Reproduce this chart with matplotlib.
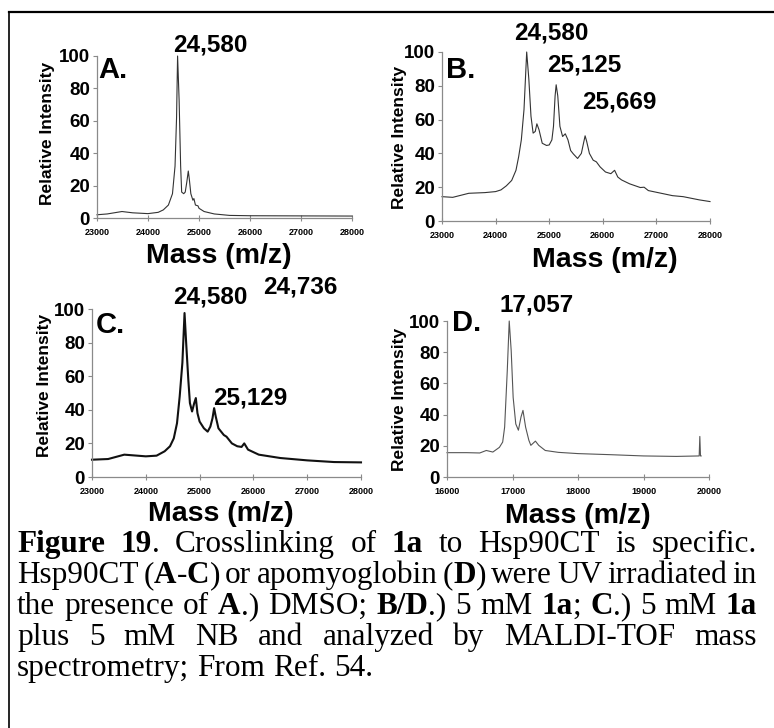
import matplotlib
matplotlib.use("Agg")
import matplotlib.pyplot as plt
from matplotlib.lines import Line2D

W, H = 774, 728

# ---------------- data ----------------
a_mass = [23000, 23200, 23490, 23700, 24000, 24200, 24300, 24400, 24480, 24530, 24560, 24580,
          24610, 24640, 24660, 24700, 24730, 24760, 24790, 24810, 24840, 24880, 24900, 24930,
          24980, 25000, 25100, 25300, 25600, 26000, 27000, 28000]
a_int = [2, 2.5, 4, 3.2, 2.7, 3.5, 5, 8, 15, 32, 62, 100,
         73, 32, 16, 15, 16, 22, 29, 24, 15, 11, 12, 8,
         7.5, 6, 4, 2.5, 1.6, 1.4, 1.3, 1.2]

b_mass = [23000, 23200, 23500, 23800, 24000, 24100, 24200, 24300, 24380, 24430, 24480, 24530,
          24580, 24620, 24660, 24700, 24740, 24770, 24810, 24870, 24950, 25000, 25050, 25080,
          25110, 25130, 25160, 25200, 25250, 25300, 25350, 25400, 25450, 25530, 25600, 25640,
          25670, 25700, 25750, 25820, 25880, 25950, 26050, 26150, 26220, 26280, 26350, 26500,
          26700, 26770, 26850, 27000, 27300, 27500, 27800, 28000]
b_int = [14.4, 14, 16.4, 16.8, 17.4, 18.4, 20.8, 24, 30, 38, 48, 66,
         100, 84, 62, 52, 53, 57.5, 54, 46, 44.7, 45, 48, 56,
         74, 80.6, 74, 56, 50, 51.6, 48, 41.7, 39.7, 37, 40, 46,
         50.4, 47, 40, 36, 35, 32, 29, 28, 30, 26, 24.3, 22,
         19.8, 20, 18, 17, 15, 14.4, 12.5, 11.5]

c_mass = [23000, 23300, 23600, 24000, 24200, 24350, 24450, 24520, 24580, 24630, 24680, 24720,
          24750, 24790, 24820, 24860, 24900, 24930, 24960, 25000, 25080, 25150, 25200, 25240,
          25270, 25300, 25350, 25450, 25500, 25600, 25700, 25780, 25830, 25900, 26100, 26500,
          27000, 27500, 28000]
c_int = [10.3, 10.7, 13.3, 12.3, 12.7, 15.3, 18.3, 23, 32, 48, 68, 97.6,
         80, 58, 44, 39, 44, 47, 38, 33, 29, 27, 30, 35,
         41, 36, 29, 25, 24, 20, 18.3, 17.9, 20, 16.3, 13.3, 11.3,
         9.9, 8.9, 8.7]

d_mass = [16000, 16300, 16500, 16600, 16700, 16800, 16850, 16880, 16920, 16950, 16980, 17010,
          17050, 17090, 17130, 17160, 17200, 17250, 17280, 17350, 17400, 17500, 17700, 18000,
          18500, 19000, 19500, 19850, 19860, 19870, 19880]
d_int = [15.6, 15.6, 15.4, 17, 16, 19, 22.4, 32, 68, 100, 81, 51,
         34, 30, 38.5, 42.7, 32, 23.5, 20.3, 23, 20.3, 17, 15.8, 15,
         14.3, 13.5, 13.2, 13.5, 26, 13.5, 13.5]

y_ticks = [0, 20, 40, 60, 80, 100]
x_ticks_hsp = [23000, 24000, 25000, 26000, 27000, 28000]
x_ticks_myo = [16000, 17000, 18000, 19000, 20000]

panel_letters = ["A.", "B.", "C.", "D."]
peak_labels = {
    "A": ["24,580"],
    "B": ["24,580", "25,125", "25,669"],
    "C": ["24,580", "24,736", "25,129"],
    "D": ["17,057"],
}
ylabel_text = "Relative Intensity"
xlabel_text = "Mass (m/z)"

# ---------------- figure ----------------
fig = plt.figure(figsize=(W / 100, H / 100), dpi=100)
fig.patch.set_facecolor("white")
SANS = "Liberation Sans"
SERIF = "Liberation Serif"


def fx(x):
    return x / W


def fy(y):
    return 1 - y / H


def make_axes(left, right, top, bottom):
    return fig.add_axes([fx(left), fy(bottom), fx(right) - fx(left), (bottom - top) / H])


AX_GREY = "#8a8a8a"


def style_axes(ax, xt, xlim):
    ax.set_xlim(*xlim)
    ax.set_ylim(0, 100)
    ax.set_xticks(xt)
    ax.set_xticklabels([str(v) for v in xt], fontsize=6.5, fontweight="bold", family=SANS)
    ax.set_yticks(y_ticks)
    ax.set_yticklabels([str(v) for v in y_ticks], fontsize=13.5, fontweight="bold", family=SANS)
    for s in ["top", "right"]:
        ax.spines[s].set_visible(False)
    for s in ["left", "bottom"]:
        ax.spines[s].set_color(AX_GREY)
        ax.spines[s].set_linewidth(0.9)
    ax.tick_params(axis="x", direction="inout", length=4, width=0.8, color=AX_GREY, pad=5)
    ax.tick_params(axis="y", direction="out", length=3, width=0.8, color=AX_GREY, pad=2)
    ax.patch.set_alpha(0)


axA = make_axes(97, 352, 56, 218)
axB = make_axes(442, 710, 52, 221)
axC = make_axes(92, 361, 309, 477)
axD = make_axes(447, 709, 321, 477)

axA.plot(a_mass, a_int, color="#333333", lw=0.8, clip_on=False)
axB.plot(b_mass, b_int, color="#333333", lw=0.8, clip_on=False)
axC.plot(c_mass, c_int, color="#111111", lw=1.5, clip_on=False)
axD.plot(d_mass, d_int, color="#555555", lw=0.8, clip_on=False)

style_axes(axA, x_ticks_hsp, (23000, 28000))
style_axes(axB, x_ticks_hsp, (23000, 28000))
style_axes(axC, x_ticks_hsp, (23000, 28000))
style_axes(axD, x_ticks_myo, (16000, 20000))


def ftext(x, y, s, **kw):
    fig.text(fx(x), fy(y), s, **kw)


bold = dict(family=SANS, fontweight="bold", color="black")

# panel letters
for (x, y), s in zip([(113, 70), (461, 70), (110, 325), (467, 323)], panel_letters):
    ftext(x, y, s, fontsize=21, ha="center", va="center", **bold)

# peak labels
pos = {
    "A": [(210, 45)],
    "B": [(551, 33), (584, 65), (619, 102)],
    "C": [(210, 297), (300, 287), (250, 398)],
    "D": [(537, 305)],
}
for k in "ABCD":
    for (x, y), s in zip(pos[k], peak_labels[k]):
        ftext(x, y, s, fontsize=17.5, ha="center", va="center", **bold)

# y labels
for x, y in [(48, 133), (400, 137), (45, 385), (400, 399)]:
    ftext(x, y, ylabel_text, fontsize=12.5, rotation=90, ha="center", va="center", **bold)

# x labels (baseline)
for x, y in [(219, 263), (605, 267), (221, 521), (578, 523)]:
    ftext(x, y, xlabel_text, fontsize=20.5, ha="center", va="baseline", **bold)

# border
fig.add_artist(Line2D([fx(9), fx(774)], [fy(12), fy(12)], color="black", lw=1.6,
                      transform=fig.transFigure))
fig.add_artist(Line2D([fx(9), fx(9)], [fy(12), fy(728)], color="black", lw=1.2,
                      transform=fig.transFigure))

# ---------------- caption (justified) ----------------
N, B_ = "normal", "bold"
caption_lines = [
    [[("Figure", B_)], [("19", B_), (".", N)], [("Crosslinking", N)], [("of", N)], [("1a", B_)],
     [("to", N)], [("Hsp90CT", N)], [("is", N)], [("specific.", N)]],
    [[("Hsp90CT", N)], [("(", N), ("A", B_), ("-", N), ("C", B_), (")", N)], [("or", N)],
     [("apomyoglobin", N)], [("(", N), ("D", B_), (")", N)], [("were", N)], [("UV", N)],
     [("irradiated", N)], [("in", N)]],
    [[("the", N)], [("presence", N)], [("of", N)], [("A", B_), (".)", N)], [("DMSO;", N)],
     [("B/D", B_), (".)", N)], [("5", N)], [("mM", N)], [("1a", B_), (";", N)], [("C", B_), (".)", N)],
     [("5", N)], [("mM", N)], [("1a", B_)]],
    [[("plus", N)], [("5", N)], [("mM", N)], [("NB", N)], [("and", N)], [("analyzed", N)],
     [("by", N)], [("MALDI-TOF", N)], [("mass", N)]],
    [[("spectrometry;", N)], [("From", N)], [("Ref.", N)], [("54.", N)]],
]
CAP_FS = 22.5
CAP_LEFT, CAP_RIGHT = 17, 757
baselines = [552, 583, 614, 645, 676]

fig.canvas.draw()
renderer = fig.canvas.get_renderer()


def seg_width(s, w):
    t = fig.text(0, 0, s, fontsize=CAP_FS, family=SERIF, fontweight=w)
    bb = t.get_window_extent(renderer)
    t.remove()
    return bb.width


space_w = seg_width("a a", N) - seg_width("aa", N)

for li, (line, yb) in enumerate(zip(caption_lines, baselines)):
    word_ws = []
    for word in line:
        word_ws.append([seg_width(s, w) for s, w in word])
    total = sum(sum(ws) for ws in word_ws)
    if li < len(caption_lines) - 1:
        gap = (CAP_RIGHT - CAP_LEFT - total) / (len(line) - 1)
    else:
        gap = space_w
    x = CAP_LEFT
    for word, ws in zip(line, word_ws):
        for (s, w), wd in zip(word, ws):
            ftext(x, yb, s, fontsize=CAP_FS, family=SERIF, fontweight=w, ha="left",
                  va="baseline", color="black")
            x += wd
        x += gap

fig.savefig("out.png", dpi=100)
